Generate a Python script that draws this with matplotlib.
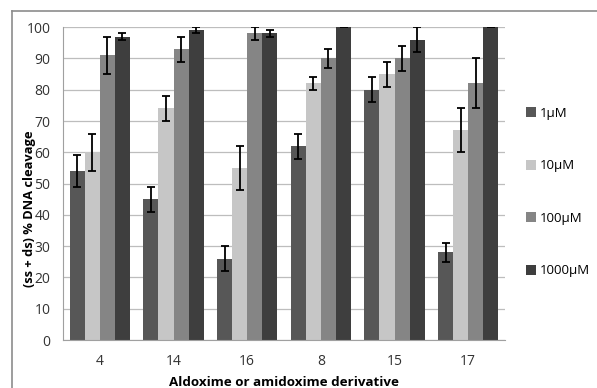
import matplotlib
matplotlib.use("Agg")
import matplotlib.pyplot as plt
import numpy as np

categories = ["4", "14", "16", "8", "15", "17"]
series_names = ["1\u00b5M", "10\u00b5M", "100\u00b5M", "1000\u00b5M"]
values = [
    [54, 45, 26, 62, 80, 28],
    [60, 74, 55, 82, 85, 67],
    [91, 93, 98, 90, 90, 82],
    [97, 99, 98, 100, 96, 100],
]
errors = [
    [5, 4, 4, 4, 4, 3],
    [6, 4, 7, 2, 4, 7],
    [6, 4, 2, 3, 4, 8],
    [1, 1, 1, 0, 4, 0],
]
colors = ["#575757", "#c6c6c6", "#858585", "#3e3e3e"]

plt.rcParams['font.family'] = ['Open Sans', 'DejaVu Sans']

fig = plt.figure(figsize=(5.97, 3.88), dpi=100)
ax = fig.add_axes([0.1055, 0.1237, 0.7405, 0.8063])

x = np.arange(len(categories))
width = 0.205
for i, (name, vals, errs, c) in enumerate(zip(series_names, values, errors, colors)):
    pos = x + (i - 1.5) * width
    ax.bar(pos, vals, width, color=c, label=name, zorder=2)
    ax.errorbar(pos, vals, yerr=errs, fmt='none', ecolor='black',
                elinewidth=1.3, capsize=3, capthick=1.3, zorder=3)

ax.set_xlim(-0.5, len(categories) - 0.5)
ax.set_ylim(0, 100)
ax.set_yticks(range(0, 101, 10))
ax.set_xticks(x)
ax.set_xticklabels(categories)
ax.tick_params(axis='both', length=0, labelsize=10, colors='#333333')
ax.tick_params(axis='y', pad=9)
ax.tick_params(axis='x', pad=10)
ax.yaxis.grid(True, color='#bdbdbd', linewidth=0.9, zorder=0)
ax.set_axisbelow(True)
for s in ['top', 'right']:
    ax.spines[s].set_visible(False)
ax.spines['left'].set_color('#a0a0a0')
ax.spines['bottom'].set_color('#a0a0a0')

ax.set_ylabel("(ss + ds) % DNA cleavage", fontsize=9.3, fontweight='bold', labelpad=6)
ax.yaxis.set_label_coords(-0.061, 0.42)
ax.set_xlabel("Aldoxime or amidoxime derivative", fontsize=9.6, fontweight='bold', labelpad=5)

ax.legend(loc='center left', bbox_to_anchor=(1.02, 0.473), frameon=False,
          fontsize=9.5, handlelength=0.8, handleheight=0.8, handletextpad=0.3,
          labelspacing=3.0)

# outer chart border
fig.add_artist(plt.Line2D([12 / 597, 12 / 597], [0, 1 - 11 / 388],
                          color='#8c8c8c', linewidth=1.2, transform=fig.transFigure))
fig.add_artist(plt.Line2D([12 / 597, 1], [1 - 11 / 388, 1 - 11 / 388],
                          color='#8c8c8c', linewidth=1.2, transform=fig.transFigure))

fig.savefig("out.png", dpi=100)
